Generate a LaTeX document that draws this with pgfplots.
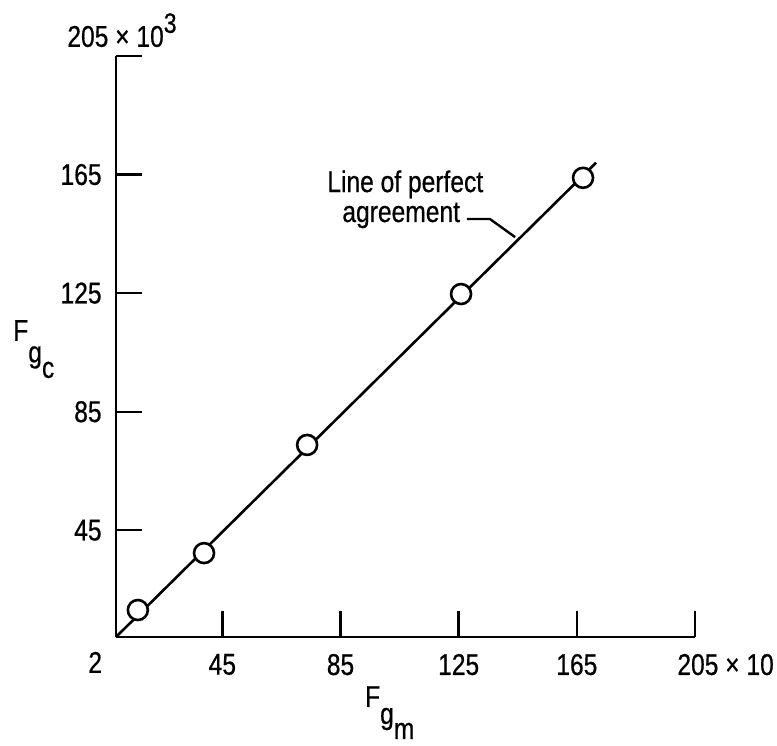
\documentclass[border=0pt]{standalone}
\usepackage{pgfplots}
\pgfplotsset{compat=1.18}
\usepackage{fontspec}
\setmainfont{Liberation Sans}[FakeStretch=0.82, FakeBold=0.6]
\begin{document}
\fontsize{15}{17}\selectfont
\begin{tikzpicture}
\path[use as bounding box] (-58pt,-54pt) rectangle (330.5pt,318.5pt);
\begin{axis}[
  at={(0,0)}, anchor=south west,
  scale only axis, width=289.5pt, height=290.5pt,
  xmin=9, xmax=205, ymin=9, ymax=205,
  axis x line=bottom, axis y line=left,
  axis line style={-, line width=1.3pt, black},
  tick align=inside, major tick length=13pt,
  tick style={line width=1.2pt, black},
  xtick={45,85,125,165,205}, xticklabels={45,85,125,165,{}},
  ytick={45,85,125,165,205}, yticklabels={45,85,125,165,{}},
  /pgf/number format/assume math mode=true,
  xticklabel style={yshift=-3.3pt},
  yticklabel style={xshift=-2pt},
  tick label style={font=\fontsize{15}{17}\selectfont},
  clip=false,
]
\addplot[black, line width=1.3pt] coordinates {(9,9) (171.5,169)};
\addplot[only marks, mark=*, mark size=5pt, mark options={fill=white, draw=black, line width=1.3pt}]
  coordinates {(16.4,18.1) (38.8,37.3) (73.7,73.8) (125.8,124.7) (167.1,163.9)};
\node[anchor=base west, inner sep=0pt, font=\fontsize{15}{17}\selectfont] at (axis cs:-7.6,208.1) {205 × 10\raisebox{7pt}{\fontsize{14}{16}\selectfont 3}};
\node[anchor=base west, inner sep=0pt, font=\fontsize{15}{17}\selectfont] at (axis cs:198.9,-3.8) {205 × 10};
\node[anchor=base west, inner sep=0pt, font=\fontsize{15}{17}\selectfont] at (axis cs:-0.5,-3.1) {2};
\node[anchor=base west, inner sep=0pt, font=\fontsize{15}{17}\selectfont] at (axis cs:80.4,159.1) {Line of perfect};
\node[anchor=base west, inner sep=0pt, font=\fontsize{15}{17}\selectfont] at (axis cs:85.5,149.0) {agreement};
\draw[line width=1.2pt] (axis cs:127.8,150.0) -- (axis cs:135.6,150.0) -- (axis cs:144.1,143.9);
\node[anchor=north west, inner sep=0pt, font=\fontsize{15}{17}\selectfont] at (axis cs:-25.9,116) {F\raisebox{-10.75pt}{g}\raisebox{-18.5pt}{c}};
\node[anchor=north west, inner sep=0pt, font=\fontsize{15}{17}\selectfont] at (axis cs:93.2,-7.5) {F\raisebox{-8.5pt}{g}\raisebox{-16pt}{m}};
\end{axis}
\end{tikzpicture}
\end{document}
